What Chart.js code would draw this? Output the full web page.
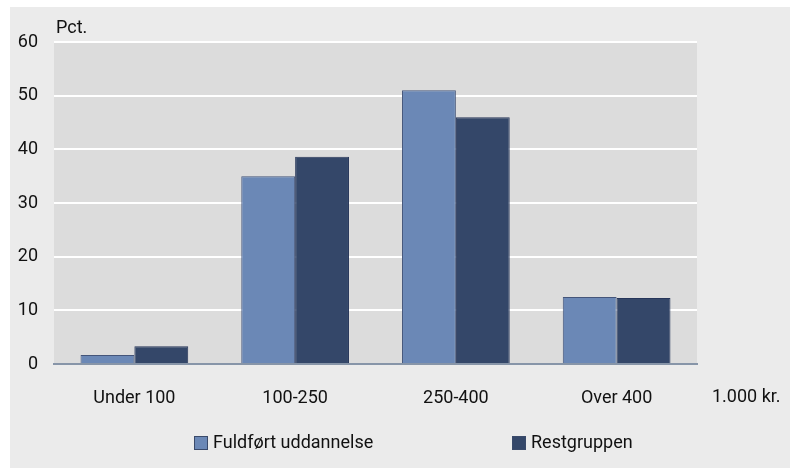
<!DOCTYPE html>
<html>
<head>
<meta charset="utf-8">
<script src="https://cdn.jsdelivr.net/npm/chart.js@4/dist/chart.umd.min.js"></script>
<style>
  html, body { margin: 0; padding: 0; background: #ffffff; }
  #panel { position: absolute; left: 10px; top: 7px; width: 780px; height: 461px; background: #ebebeb; }
  #chart { display: block; }
</style>
</head>
<body>
<div id="panel"><canvas id="chart" width="780" height="461"></canvas></div>
<script>
// Income groups (1.000 kr.) and share in pct.
const categories = ['Under 100', '100-250', '250-400', 'Over 400'];
const completed = [1.7, 35, 51, 12.5];   // Fuldført uddannelse
const restGroup = [3.3, 38.6, 46, 12.3]; // Restgruppen
const seriesNames = ['Fuldført uddannelse', 'Restgruppen'];
const yTicks = [0, 10, 20, 30, 40, 50, 60];

const FONT = 'Roboto, sans-serif';
const FONT_SIZE = 18;

// Draws the unit labels and the wide-spaced legend
const extrasPlugin = {
    id: 'extras',
    afterDraw(chart) {
        const c = chart.ctx;
        const area = chart.chartArea;
        c.save();
        c.fillStyle = '#111111';
        c.font = FONT_SIZE + 'px ' + FONT;
        c.textBaseline = 'alphabetic';
        c.textAlign = 'left';
        c.fillText('Pct.', area.left + 2, area.top - 9);
        c.textBaseline = 'middle';
        c.fillText('1.000 kr.', 702, 390);

        const legendX = [184, 502];
        chart.data.datasets.forEach((ds, i) => {
            const x = legendX[i];
            const y = 436;
            c.fillStyle = ds.backgroundColor;
            c.fillRect(x, y - 7, 14, 14);
            c.strokeStyle = '#3a4a6a';
            c.lineWidth = 1;
            c.strokeRect(x + 0.5, y - 6.5, 13, 13);
            c.fillStyle = '#111111';
            c.fillText(ds.label, x + 19, y);
        });
        c.restore();
    }
};

new Chart(document.getElementById('chart'), {
    type: 'bar',
    data: {
        labels: categories,
        datasets: [
            {
                label: seriesNames[0],
                data: completed,
                backgroundColor: '#6b88b6',
                borderColor: '#44557a',
                borderWidth: 1
            },
            {
                label: seriesNames[1],
                data: restGroup,
                backgroundColor: '#344769',
                borderColor: '#27365a',
                borderWidth: 1
            }
        ]
    },
    options: {
        responsive: false,
        animation: false,
        layout: { padding: { left: 0, right: 93, top: 35, bottom: 0 } },
        categoryPercentage: 0.67,
        barPercentage: 1,
        plugins: {
            legend: { display: false },
            tooltip: { enabled: false }
        },
        scales: {
            x: {
                grid: { display: false, drawTicks: false },
                border: { display: true, color: '#8795a8', width: 2 },
                ticks: {
                    color: '#111111',
                    font: { size: FONT_SIZE, family: FONT },
                    padding: 24
                },
                afterFit(scale) { scale.height = 104; }
            },
            y: {
                min: 0,
                max: 60,
                afterBuildTicks(scale) { scale.ticks = yTicks.map(v => ({ value: v })); },
                grid: { color: '#ffffff', lineWidth: 2, drawTicks: false },
                border: { display: false },
                ticks: {
                    color: '#111111',
                    font: { size: FONT_SIZE, family: FONT },
                    padding: 16
                },
                afterFit(scale) { scale.width = 44; }
            }
        }
    },
    plugins: [
        {
            id: 'plotBg',
            beforeDraw(chart) {
                const a = chart.chartArea;
                chart.ctx.save();
                chart.ctx.fillStyle = '#dcdcdc';
                chart.ctx.fillRect(a.left, a.top, a.right - a.left, a.bottom - a.top);
                chart.ctx.restore();
            }
        },
        extrasPlugin
    ]
});
</script>
</body>
</html>
